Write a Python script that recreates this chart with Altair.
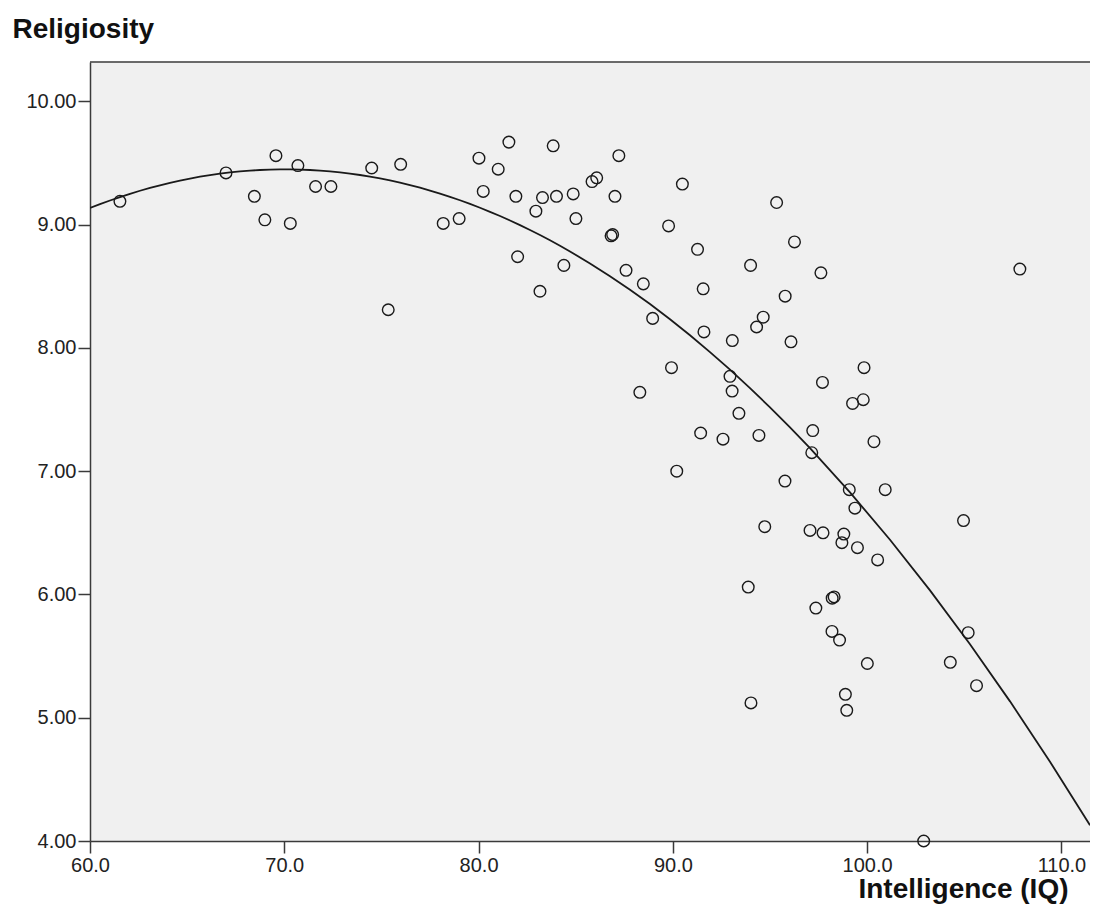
import altair as alt
import pandas as pd

# Intelligence (IQ) and Religiosity values
iq = [61.54, 67.0, 68.46, 69.0, 69.57, 70.31, 70.7, 71.61, 72.4, 74.5,
      75.35, 75.99, 78.18, 79.0, 80.02, 80.24, 81.01, 81.56, 81.92, 82.01,
      82.95, 83.16, 83.29, 83.84, 84.01, 84.39, 84.87, 85.01, 85.84, 86.08,
      86.82, 86.9, 87.02, 87.22, 87.59, 88.3, 88.48, 88.96, 89.78, 89.93,
      90.2, 90.49, 91.27, 91.43, 91.56, 91.6, 92.58, 92.94, 93.05, 93.06,
      93.4, 93.88, 94.0, 94.02, 94.31, 94.43, 94.65, 94.73, 95.34, 95.77,
      95.78, 96.08, 96.26, 97.06, 97.15, 97.2, 97.36, 97.62, 97.7, 97.73,
      98.19, 98.2, 98.3, 98.58, 98.7, 98.8, 98.88, 98.95, 99.08, 99.25,
      99.37, 99.5, 99.8, 99.84, 100.01, 100.35, 100.54, 100.93, 102.91, 104.28,
      104.96, 105.2, 105.63, 107.86]
religiosity = [9.19, 9.42, 9.23, 9.04, 9.56, 9.01, 9.48, 9.31, 9.31, 9.46,
               8.31, 9.49, 9.01, 9.05, 9.54, 9.27, 9.45, 9.67, 9.23, 8.74,
               9.11, 8.46, 9.22, 9.64, 9.23, 8.67, 9.25, 9.05, 9.35, 9.38,
               8.91, 8.92, 9.23, 9.56, 8.63, 7.64, 8.52, 8.24, 8.99, 7.84,
               7.00, 9.33, 8.80, 7.31, 8.48, 8.13, 7.26, 7.77, 7.65, 8.06,
               7.47, 6.06, 8.67, 5.12, 8.17, 7.29, 8.25, 6.55, 9.18, 6.92,
               8.42, 8.05, 8.86, 6.52, 7.15, 7.33, 5.89, 8.61, 7.72, 6.50,
               5.70, 5.97, 5.98, 5.63, 6.42, 6.49, 5.19, 5.06, 6.85, 7.55,
               6.70, 6.38, 7.58, 7.84, 5.44, 7.24, 6.28, 6.85, 4.00, 5.45,
               6.60, 5.69, 5.26, 8.64]

x_ticks = [60, 70, 80, 90, 100, 110]
y_ticks = [4, 5, 6, 7, 8, 9, 10]
x_domain = [60, 111.47]
y_domain = [4, 10.32]

df = pd.DataFrame({"iq": iq, "rel": religiosity})

FONT = "Liberation Sans"
AX = "#3a3a3a"
INK = "#1a1a1a"
W, H = 1000, 779

x_enc = alt.X(
    "iq:Q",
    scale=alt.Scale(domain=x_domain, nice=False, zero=False),
    axis=alt.Axis(
        values=x_ticks, format=".1f", grid=False,
        tickSize=12, tickWidth=1.5, tickColor=AX,
        domainColor=AX, domainWidth=1.5,
        labelFont=FONT, labelFontSize=20, labelColor="#222222",
        labelPadding=2, labelFlush=False,
        title="Intelligence (IQ)", titleFont=FONT, titleFontSize=28,
        titleFontWeight="bold", titleColor="#111111",
        titleAlign="right", titleBaseline="alphabetic",
        titleX=978, titleY=56, titleAnchor="end",
    ),
)
y_enc = alt.Y(
    "rel:Q",
    scale=alt.Scale(domain=y_domain, nice=False, zero=False),
    axis=alt.Axis(
        values=y_ticks, format=".2f", grid=False,
        tickSize=12, tickWidth=1.5, tickColor=AX,
        domainColor=AX, domainWidth=1.5,
        labelFont=FONT, labelFontSize=20, labelColor="#222222",
        labelPadding=2, labelFlush=False,
        title="Religiosity", titleFont=FONT, titleFontSize=28,
        titleFontWeight="bold", titleColor="#111111",
        titleAngle=0, titleAlign="left", titleBaseline="alphabetic",
        titleX=-78, titleY=-25,
    ),
)

points = alt.Chart(df).mark_point(
    shape="circle", filled=False, size=135, strokeWidth=1.4,
    color=INK, opacity=1,
).encode(x=x_enc, y=y_enc)

fit = alt.Chart(df).transform_regression(
    "iq", "rel", method="poly", order=2, extent=x_domain
).mark_line(color=INK, strokeWidth=1.8, clip=True).encode(x=x_enc, y=y_enc)

top = alt.Chart(pd.DataFrame({"k": [0]})).mark_rule(
    color=AX, strokeWidth=1.5
).encode(x=alt.value(0), x2=alt.value(W), y=alt.value(0))

chart = alt.layer(fit, points, top).properties(
    width=W, height=H,
    autosize=alt.AutoSizeParams(type="none"),
    padding={"left": 82, "top": 54, "right": 0, "bottom": 64},
    background="white",
).configure_view(fill="#f0f0f0", stroke="transparent")

chart.save("out.html", embed_options={"renderer": "svg", "actions": False})
